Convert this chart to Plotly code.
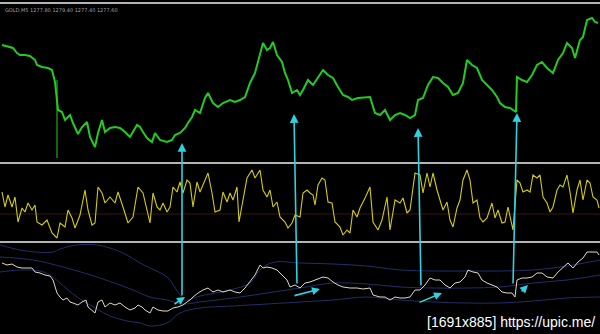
import plotly.graph_objects as go

# ---------------- data ----------------
# main price (top panel)
price_bar = [2,8,13,17,20,25,30,35,37,42,48,52,55,58,62,65,70,73,78,82,87,90,95,98,102,105,110,115,120,125,130,137,140,143,147,152,155,160,167,172,175,180,185,188,192,195,200,205,208,213,218,223,230,235,240,245,250,255,260,263,267,270,273,277,282,285,288,292,297,300,303,308,313,318,323,328,333,338,343,348,352,358,365,370,375,380,385,390,395,400,405,410,415,418,423,428,433,438,443,448,453,458,463,467,472,477,482,487,492,497,500,505,510,516,517,522,527,532,537,542,547,553,558,563,567,572,575,580,583,587,592,595,598]
price_val = [1281.5,1281.3,1281.2,1280.7,1280.5,1280.5,1280.4,1280.0,1279.5,1279.3,1279.2,1279.0,1277.8,1275.0,1274.8,1274.0,1274.5,1273.7,1272.6,1273.3,1273.8,1272.3,1271.3,1272.7,1274.0,1272.8,1273.2,1273.3,1273.2,1272.8,1272.3,1273.5,1273.3,1272.8,1272.2,1271.8,1272.7,1272.0,1271.8,1272.0,1272.5,1272.7,1273.2,1273.7,1274.3,1275.0,1274.7,1276.2,1276.7,1275.7,1275.3,1275.7,1276.0,1275.8,1276.0,1276.3,1277.7,1278.7,1280.5,1281.7,1281.0,1281.2,1281.8,1280.5,1279.8,1278.7,1278.0,1276.7,1277.0,1276.5,1277.0,1278.0,1277.5,1278.2,1279.0,1278.5,1278.2,1277.3,1276.5,1276.3,1276.0,1276.2,1276.3,1276.3,1274.7,1274.5,1275.0,1274.0,1274.5,1274.7,1274.5,1274.2,1274.5,1276.0,1276.2,1277.5,1278.3,1278.2,1277.7,1277.3,1276.5,1276.7,1277.7,1280.0,1279.5,1279.2,1278.0,1277.5,1277.0,1276.3,1275.7,1275.3,1275.2,1274.8,1278.3,1278.0,1277.8,1278.5,1279.5,1279.8,1279.2,1278.7,1280.0,1280.7,1281.7,1281.2,1280.2,1282.0,1282.3,1284.0,1284.2,1283.8,1283.7]
spike_bar = [57, 57]
spike_val = [1278.0, 1270.2]

# oscillator (middle panel)
osc_bar = [2,5,8,12,15,18,22,25,28,32,35,37,42,47,52,57,60,65,68,72,75,80,85,88,92,95,98,102,105,110,115,118,123,128,133,138,143,147,150,153,157,160,163,167,170,173,177,180,183,187,190,193,197,200,203,208,212,215,220,223,227,230,233,237,239,243,247,252,255,260,263,267,270,273,277,280,285,288,292,295,300,303,307,310,313,315,318,322,325,328,332,335,340,343,347,350,353,357,360,365,370,373,378,382,387,390,395,400,403,407,410,415,420,423,427,430,433,437,440,443,447,450,453,457,460,463,467,470,473,477,480,483,487,492,495,498,502,505,508,513,517,520,523,527,530,533,537,540,543,547,550,553,557,560,563,567,570,573,577,580,583,587,590,593,597,599]
osc_val = [50,35,47,35,45,20,34,30,39,32,37,20,17,22,9,4,19,15,32,24,14,27,52,32,17,19,55,49,39,45,39,50,35,19,25,55,49,32,19,49,35,32,39,30,35,55,50,60,49,62,59,35,60,50,57,69,49,30,32,50,40,49,42,55,20,42,64,72,64,72,52,45,52,35,40,25,20,14,19,27,25,49,52,49,47,37,57,64,62,40,39,20,15,7,12,9,32,25,34,44,55,20,12,22,45,12,42,39,44,29,32,69,67,49,69,55,69,52,42,32,40,22,15,34,42,62,72,62,39,42,24,20,24,39,24,32,19,20,35,12,62,59,50,52,50,67,64,67,45,39,30,35,52,57,55,67,50,29,52,62,42,62,59,45,42,34]
osc_level = 28

# smoothed line (bottom panel)
line_bar = [2,7,12,17,22,27,32,35,40,45,50,53,57,60,63,67,70,73,78,82,86,88,92,95,98,102,105,110,115,120,125,130,135,138,142,145,150,153,158,163,168,173,178,183,187,190,193,198,203,208,213,218,223,230,235,240,245,250,255,260,263,267,272,277,282,287,290,295,300,305,310,315,320,323,328,333,338,343,350,357,363,370,373,380,385,390,395,400,405,410,415,420,425,430,435,440,445,450,455,460,465,468,473,478,482,487,492,497,502,507,512,515,517,522,527,532,537,542,547,553,558,563,568,573,578,583,587,592,597,599]
line_val = [77,75,76,73,72,72,72,68,67,65,64,60,47,43,40,42,38,37,35,38,40,33,30,27,38,40,33,37,35,37,33,30,32,35,33,30,27,33,30,29,29,32,33,35,38,40,43,47,50,52,48,50,48,50,48,47,52,58,65,75,72,73,72,70,65,60,53,55,52,57,58,60,62,63,62,58,55,53,52,52,51,52,45,43,43,40,43,42,42,43,50,50,55,62,60,60,55,52,57,58,63,70,68,67,60,57,55,53,48,47,47,43,60,62,62,63,67,67,63,62,68,73,77,72,78,82,88,88,88,85]

up_bar = [0,20,35,53,60,77,97,110,127,140,150,167,180,185,200,230,250,262,275,300,333,367,400,433,467,500,533,567,600]
up_val = [95,90,88,88,91,95,95,92,85,77,72,63,45,40,44,50,57,72,78,77,76,74,70,69,69,69,70,74,80]
mid_bar = [0,33,67,100,133,150,167,183,200,233,267,300,333,367,400,433,467,500,533,567,600]
mid_val = [83,80,72,62,50,43,40,36,38,42,47,52,57,56,53,52,52,53,57,60,65]
lo_bar = [0,20,40,50,60,77,97,110,127,140,150,167,180,200,233,267,300,333,367,400,433,467,500,533,567,600]
lo_val = [68,70,69,65,57,43,31,24,19,17,14,17,27,32,34,36,38,40,43,40,38,37,37,39,42,43]

# hand-drawn arrows: vertical (head on price, tail on bottom panel)
varrow_head_bar = [182, 294, 418, 517]
varrow_head_price = [1271.7, 1274.6, 1273.2, 1274.7]
varrow_tail_bar = [182, 297, 421, 513]
varrow_tail_val = [43, 55, 53, 55]
# short slanted arrows in bottom panel (tail -> head)
sarrow_tail_bar = [173, 293, 418, 520]
sarrow_tail_val = [35, 44, 37, 47]
sarrow_head_bar = [185, 320, 442, 528]
sarrow_head_val = [43, 51, 47, 55]

header_text = "GOLD,M5 1277.80 1279.40 1277.40 1277.60"
watermark = "[1691x885] https://upic.me/"

# ---------------- layout helpers ----------------
W, H = 600, 334
rows = {"top": (3, 163), "mid": (163, 242), "bot": (242, 334)}
def dom(r):
    a, b = rows[r]
    return [1 - b / H, 1 - a / H]
top_rng = [1269.7, 1285.7]
mid_rng = [0, 79]
bot_rng = [6, 98]

def to_paper(v, rng, d):
    return d[0] + (v - rng[0]) / (rng[1] - rng[0]) * (d[1] - d[0])

fig = go.Figure()
GREEN = "#22cc22"
fig.add_trace(go.Scatter(x=price_bar, y=price_val, mode="lines",
                         line=dict(color=GREEN, width=2), yaxis="y"))
fig.add_trace(go.Scatter(x=spike_bar, y=spike_val, mode="lines",
                         line=dict(color=GREEN, width=1), yaxis="y"))
fig.add_trace(go.Scatter(x=[0, 600], y=[osc_level, osc_level], mode="lines",
                         line=dict(color="#3a1414", width=1), yaxis="y2"))
fig.add_trace(go.Scatter(x=osc_bar, y=osc_val, mode="lines",
                         line=dict(color="#d4cc10", width=1.1), yaxis="y2"))
for bx, bv in [(up_bar, up_val), (mid_bar, mid_val), (lo_bar, lo_val)]:
    fig.add_trace(go.Scatter(x=bx, y=bv, mode="lines", line_shape="spline",
                             line=dict(color="#212f66", width=1), yaxis="y3"))
fig.add_trace(go.Scatter(x=line_bar, y=line_val, mode="lines",
                         line=dict(color="#e2d8c6", width=1), yaxis="y3"))

ax_common = dict(showgrid=False, zeroline=False, showticklabels=False,
                 showline=False, fixedrange=True)
fig.update_layout(
    width=W, height=H, margin=dict(l=0, r=0, t=0, b=0),
    paper_bgcolor="#000000", plot_bgcolor="#000000", showlegend=False,
    xaxis=dict(range=[0, 600], domain=[0, 1], **ax_common),
    yaxis=dict(range=top_rng, domain=dom("top"), **ax_common),
    yaxis2=dict(range=mid_rng, domain=dom("mid"), **ax_common),
    yaxis3=dict(range=bot_rng, domain=dom("bot"), **ax_common),
)

# panel separators
shapes = [dict(type="line", xref="paper", yref="paper", x0=0, x1=1,
               y0=1 - 3 / H, y1=1 - 3 / H, line=dict(color="#b4b4b4", width=2))]
for r in ("top", "mid"):
    yb = 1 - rows[r][1] / H
    shapes.append(dict(type="line", xref="paper", yref="paper", x0=0, x1=1,
                       y0=yb, y1=yb, line=dict(color="#b4b4b4", width=2)))
fig.update_layout(shapes=shapes)

CYAN = "#30d0de"
ann = []
for hb, hp, tb, tv in zip(varrow_head_bar, varrow_head_price, varrow_tail_bar, varrow_tail_val):
    hy = to_paper(hp, top_rng, dom("top"))
    ty = to_paper(tv, bot_rng, dom("bot"))
    ann.append(dict(x=hb, y=hy, xref="x", yref="paper", showarrow=True,
                    ax=(tb - hb) * W / 600, ay=(hy - ty) * H, axref="pixel", ayref="pixel",
                    arrowhead=2, arrowsize=1.1, arrowwidth=1.6, arrowcolor=CYAN, text=""))
for tb, tv, hb, hv in zip(sarrow_tail_bar, sarrow_tail_val, sarrow_head_bar, sarrow_head_val):
    ann.append(dict(x=hb, y=hv, xref="x", yref="y3", ax=tb, ay=tv, axref="x", ayref="y3",
                    showarrow=True, arrowhead=2, arrowsize=1, arrowwidth=1.6,
                    arrowcolor=CYAN, text=""))
ann.append(dict(x=0.005, y=1 - 5 / H, xref="paper", yref="paper", xanchor="left", yanchor="top",
                text=header_text, showarrow=False,
                font=dict(size=5, color="#a0a0a0", family="DejaVu Sans")))
ann.append(dict(x=0.995, y=0.005, xref="paper", yref="paper", xanchor="right", yanchor="bottom",
                text=watermark, showarrow=False,
                font=dict(size=14, color="#ffffff", family="Liberation Sans Narrow, Liberation Sans")))
fig.update_layout(annotations=ann)

fig.write_html("out.html")
